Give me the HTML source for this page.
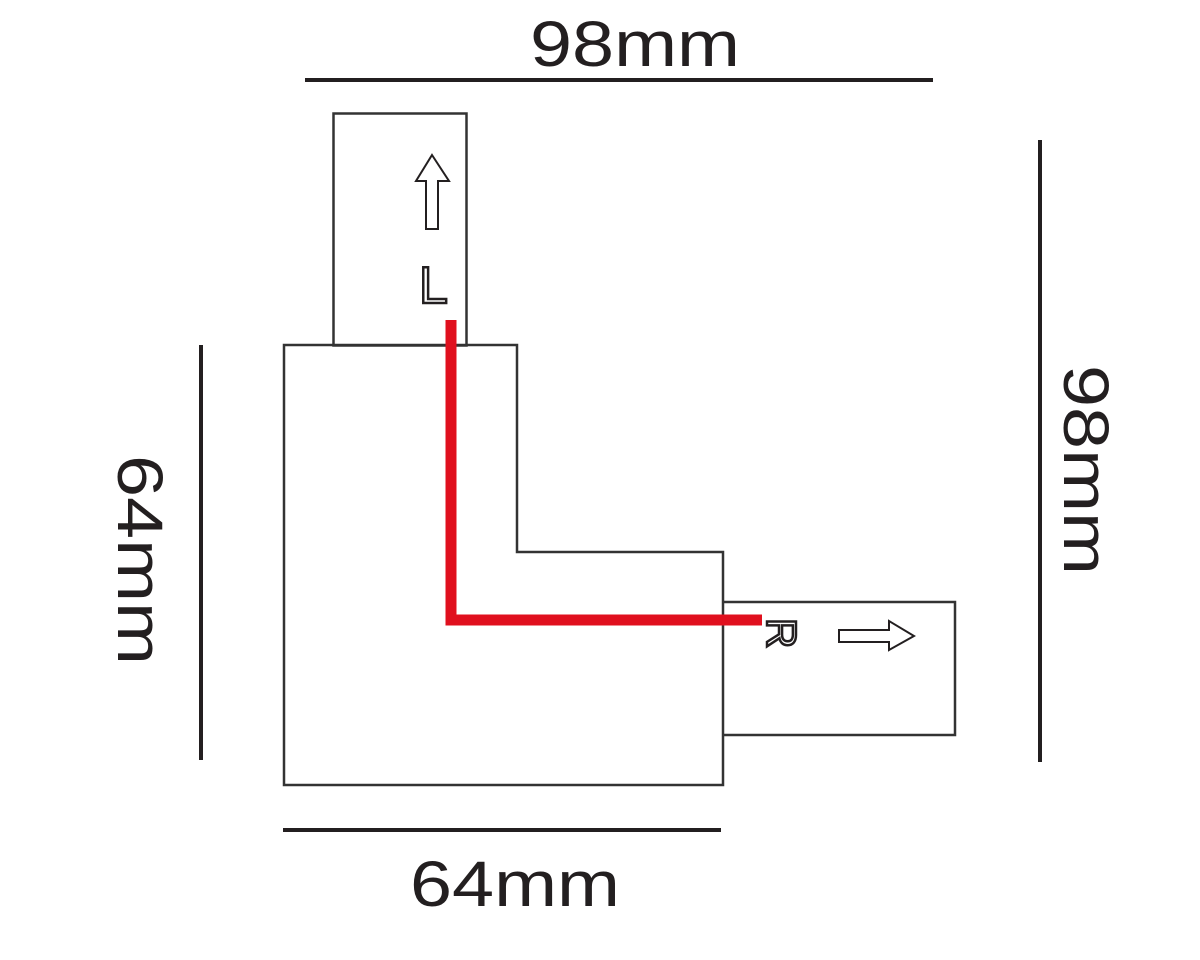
<!DOCTYPE html>
<html><head><meta charset="utf-8"><style>
html,body{margin:0;padding:0;background:#fff;width:1200px;height:960px;overflow:hidden}
svg text{font-family:"Liberation Sans",Arial,sans-serif;fill:#231f20}
</style></head><body>
<svg width="1200" height="960" viewBox="0 0 1200 960" xmlns="http://www.w3.org/2000/svg">
<line x1="305" y1="80" x2="933" y2="80" stroke="#231f20" stroke-width="4"/>
<line x1="283" y1="830" x2="721" y2="830" stroke="#231f20" stroke-width="4"/>
<line x1="201" y1="345" x2="201" y2="760" stroke="#231f20" stroke-width="4"/>
<line x1="1040" y1="140" x2="1040" y2="762" stroke="#231f20" stroke-width="4"/>
<text x="530" y="66" font-size="64" textLength="210" lengthAdjust="spacingAndGlyphs">98mm</text>
<text x="410" y="906" font-size="64" textLength="210" lengthAdjust="spacingAndGlyphs">64mm</text>
<text transform="translate(118,455) rotate(90)" font-size="64" textLength="210" lengthAdjust="spacingAndGlyphs">64mm</text>
<text transform="translate(1064,365) rotate(90)" font-size="64" textLength="210" lengthAdjust="spacingAndGlyphs">98mm</text>
<g fill="none" stroke="#333" stroke-width="2.5">
<rect x="333.5" y="113.5" width="133" height="232"/>
<path d="M284 345 H517 V552 H723 V785 H284 Z"/>
<path d="M723 602 H955 V735 H723"/>
</g>
<path d="M451 320 V620 H762" fill="none" stroke="#e0101e" stroke-width="11"/>
<path d="M432 155 L449 181 L438 181 L438 229 L426 229 L426 181 L416 181 Z" fill="none" stroke="#231f20" stroke-width="2"/>
<path d="M914 636 L889 650 L889 642 L839 642 L839 630 L889 630 L889 621 Z" fill="none" stroke="#231f20" stroke-width="2"/>
<text x="419" y="303" font-size="52" style="fill:#fff" stroke="#231f20" stroke-width="2.5">L</text>
<text transform="translate(767,618) rotate(90)" font-size="42" style="fill:#fff" stroke="#231f20" stroke-width="2.5">R</text>
</svg>
</body></html>
